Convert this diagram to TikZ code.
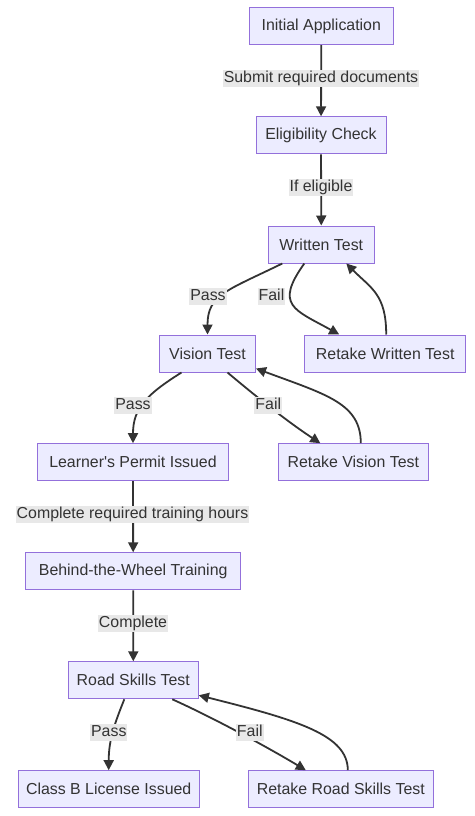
\documentclass[tikz,border=0pt]{standalone}
\usepackage{fontspec}
\setmainfont{Liberation Sans}
\usetikzlibrary{arrows.meta}
\definecolor{boxfill}{HTML}{ECECFF}
\definecolor{boxline}{HTML}{9370DB}
\definecolor{ink}{HTML}{333333}
\definecolor{lblfill}{HTML}{E8E8E8}
\begin{document}
\begin{tikzpicture}[x=1pt,y=1pt,
	box/.style={draw=boxline,fill=boxfill,line width=1pt,text=ink,minimum height=37pt,inner xsep=0pt,font=\fontsize{15.9}{18}\selectfont},
	lbl/.style={fill=lblfill,text=ink,inner xsep=1pt,inner ysep=1pt,text height=11.5pt,text depth=3.5pt,font=\fontsize{15.9}{18}\selectfont},
	edge/.style={draw=ink,line width=1.8pt,-{Triangle[length=10pt,width=10pt]}}]
	\useasboundingbox (0,0) rectangle (474,-816);
	%BOXES
	\node[box,minimum width=144pt] (ia) at (321.3,-26.2) {Initial Application};
	\node[box,minimum width=130pt] (ec) at (321,-135.3) {Eligibility Check};
	\node[box,minimum width=106pt] (wt) at (321.3,-244.5) {Written Test};
	\node[box,minimum width=96pt] (vt) at (207.5,-353.5) {Vision Test};
	\node[box,minimum width=161pt] (rwt) at (385.2,-353.5) {Retake Written Test};
	\node[box,minimum width=191pt] (lpi) at (133,-462.2) {Learner\textquotesingle s Permit Issued};
	\node[box,minimum width=150pt] (rvt) at (353.3,-462.2) {Retake Vision Test};
	\node[box,minimum width=215pt] (bwt) at (133.2,-571.3) {Behind-the-Wheel Training};
	\node[box,minimum width=130pt] (rst) at (133.3,-680.3) {Road Skills Test};
	\node[box,minimum width=181pt] (cbl) at (108.7,-789.2) {Class B License Issued};
	\node[box,minimum width=185pt] (rrs) at (340.8,-789.2) {Retake Road Skills Test};
	%EDGES
	\draw[edge] (ia) -- (ec);
	\draw[edge] (ec) -- (wt);
	\draw[edge] ([xshift=-39pt]wt.south) .. controls +(-55,-27) and +(0,40) .. (vt.north);
	\draw[edge] ([xshift=-17pt]wt.south) .. controls +(-30,-42) and +(-45,25) .. ([xshift=-46pt]rwt.north);
	\draw[edge] ([xshift=1pt]rwt.north) .. controls +(0,40) and +(25,-25) .. ([xshift=25pt]wt.south);
	\draw[edge] ([xshift=-26pt]vt.south) .. controls +(-35,-22) and +(0,35) .. (lpi.north);
	\draw[edge] ([xshift=20pt]vt.south) .. controls +(25,-21) and +(-35,23) .. ([xshift=-33pt]rvt.north);
	\draw[edge] ([xshift=7.5pt]rvt.north) .. controls +(0,40) and +(70,-26) .. ([yshift=-15pt]vt.east);
	\draw[edge] (lpi) -- (bwt);
	\draw[edge] (bwt) -- (rst);
	\draw[edge] ([xshift=-9pt]rst.south) .. controls +(-10,-25) and +(0,30) .. (cbl.north);
	\draw[edge] ([xshift=39pt]rst.south) .. controls +(40,-18) and +(-40,24) .. ([xshift=-35pt]rrs.north);
	\draw[edge] ([xshift=7pt]rrs.north) .. controls +(0,35) and +(100,-25) .. ([yshift=-15pt]rst.east);
	%LABELS
	\node[lbl] (l1) at (321,-78) {Submit required documents};
	\node[lbl] (l2) at (321,-187) {If eligible};
	\node[lbl] (l3) at (208,-296) {Pass};
	\node[lbl] (l4) at (271.5,-296) {Fail};
	\node[lbl] (l5) at (133,-405) {Pass};
	\node[lbl] (l6) at (268.3,-405) {Fail};
	\node[lbl] (l7) at (132.5,-514) {Complete required training hours};
	\node[lbl] (l8) at (133,-623) {Complete};
	\node[lbl] (l9) at (108.8,-732.5) {Pass};
	\node[lbl] (l10) at (249.8,-732.5) {Fail};
\end{tikzpicture}
\end{document}
